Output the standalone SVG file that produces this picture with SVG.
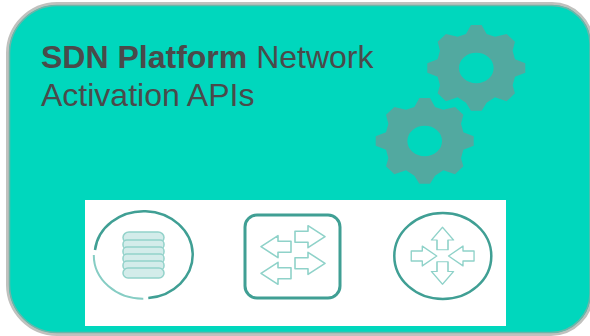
<svg xmlns="http://www.w3.org/2000/svg" width="590" height="336" viewBox="0 0 590 336">
<defs>
<path id="gear" fill-rule="evenodd" d="M-16-129L16-129L31-102L56-94L91-102L116-79L109-52L116-26L147-14L147 14L116 26L109 52L116 76L91 100L56 88L31 104L16 128L-16 128L-31 104L-56 88L-91 100L-116 76L-109 52L-116 26L-147 14L-147-14L-116-26L-109-52L-116-79L-91-102L-56-94L-31-102ZM0-46A52 46 0 1 0 0 46A52 46 0 1 0 0-46Z"/>
<path id="arrow" d="M-15 0L2-11V-5.500H15V5.500H2V11Z"/>
<filter id="soft" x="-5%" y="-5%" width="110%" height="110%"><feGaussianBlur stdDeviation="0.6"/></filter>
</defs>
<style>
.t{font-family:"Liberation Sans",Arial,sans-serif;font-size:32px;fill:#4a4a4a}
.g{fill:#52a9a0}
.a{fill:#fff;stroke:#8fd2c9;stroke-width:1.600;stroke-linejoin:round}
.r{fill:none;stroke:#3f9f94;stroke-width:2.500}
.c{fill:#d3ecea;stroke:#93d2ca;stroke-width:1.500}
</style>
<rect width="590" height="336" fill="#fff"/>
<g id="platform">
<path d="M57 3.500H552A40 40 0 0 1 592 43.500V293A41 41 0 0 1 551 334.500H57A50 50 0 0 1 7.500 285V53A50 50 0 0 1 57 3.500Z" fill="#00d7bd" stroke="#c0c1be" stroke-width="3"/>
<path d="M57 5.500H552A38 38 0 0 1 590 43.500V293A39 39 0 0 1 551 332.500H57A48 48 0 0 1 9.500 285V53A48 48 0 0 1 57 5.500Z" fill="none" stroke="#6bb5a9" stroke-width="1.500"/>
<text class="t" x="41" y="68"><tspan font-weight="700">SDN Platform</tspan> Network</text>
<text class="t" x="41" y="105.500">Activation APIs</text>
</g>
<g id="gears" class="g">
<use href="#gear" transform="translate(476.300,68) scale(.3333)"/>
<use href="#gear" transform="translate(424.700,141) scale(.3333)"/>
</g>
<rect x="85" y="200" width="421" height="126" fill="#fff"/>
<g id="icons" filter="url(#soft)">
<g id="database">
<path class="r" d="M95 250A49 43.500 0 1 1 148.300 298"/>
<path d="M143.300 298.700A49 43.500 0 0 1 93.800 255" fill="none" stroke="#86cdc4" stroke-width="2"/>
<rect class="c" x="123" y="232" width="41" height="11" rx="6"/>
<rect class="c" x="123" y="240" width="41" height="9" rx="4"/>
<rect class="c" x="123" y="247" width="41" height="9" rx="4"/>
<rect class="c" x="123" y="254" width="41" height="9" rx="4"/>
<rect class="c" x="123" y="261" width="41" height="9" rx="4"/>
<rect class="c" x="123" y="268" width="41" height="10" rx="5"/>
</g>
<g id="switch">
<rect x="245" y="215" width="95" height="83" rx="12" fill="#fff" stroke="#3f9f94" stroke-width="3"/>
<use href="#arrow" class="a" transform="translate(276,246.700)"/>
<use href="#arrow" class="a" transform="translate(276,273.300)"/>
<use href="#arrow" class="a" transform="translate(310,236.700) rotate(180)"/>
<use href="#arrow" class="a" transform="translate(310,263.300) rotate(180)"/>
</g>
<g id="router">
<ellipse cx="442.800" cy="256" rx="48.500" ry="43" fill="#fff" stroke="#3f9f94" stroke-width="2.500"/>
<use href="#arrow" class="a" transform="translate(424,256) rotate(180) scale(.85,.9)"/>
<use href="#arrow" class="a" transform="translate(461.300,256) scale(.85,.9)"/>
<use href="#arrow" class="a" transform="translate(442.500,238.500) rotate(90) scale(.75,1)"/>
<use href="#arrow" class="a" transform="translate(442.500,273) rotate(-90) scale(.75,1)"/>
</g>
</g>
</svg>
